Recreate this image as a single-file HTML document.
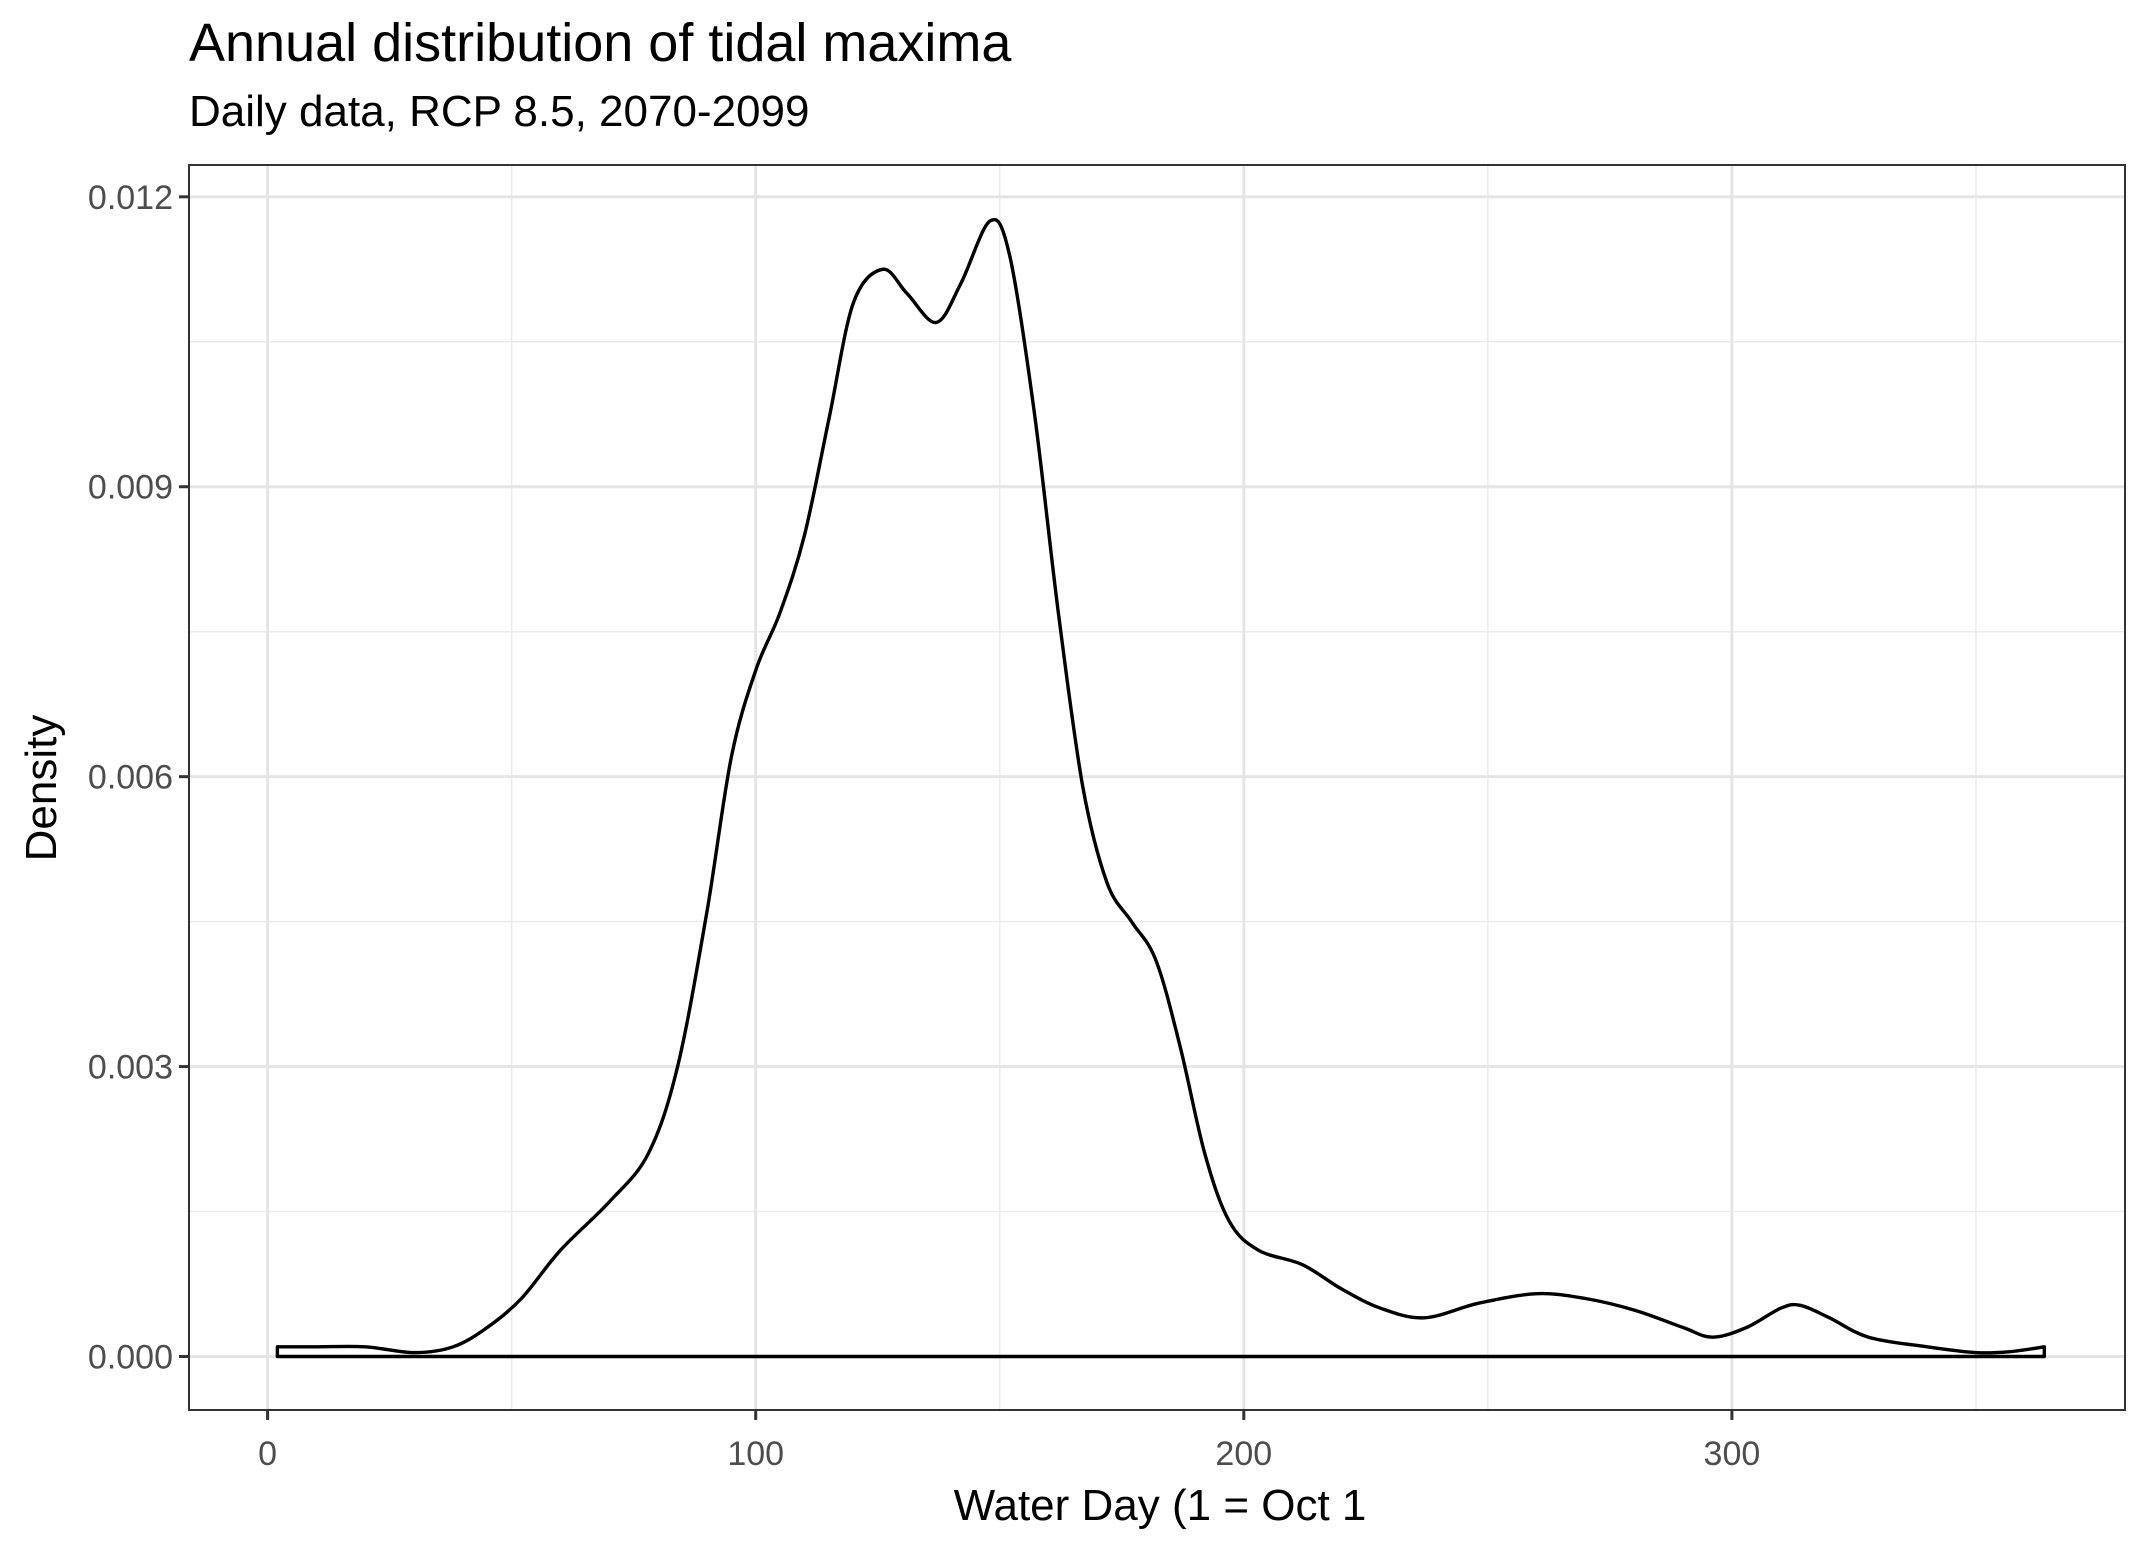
<!DOCTYPE html>
<html><head><meta charset="utf-8"><style>
html,body{margin:0;padding:0;background:#fff;}
svg{display:block;font-family:"Liberation Sans",Arial,sans-serif;}
</style></head><body>
<svg id="chart" width="2149" height="1545" viewBox="0 0 2149 1545">
<text x="189" y="61" font-size="54" fill="#000">Annual distribution of tidal maxima</text>
<text x="189" y="126" font-size="44" fill="#000">Daily data, RCP 8.5, 2070-2099</text>
<g id="grid"></g>
<g id="axes"></g>
<text x="1160" y="1520" font-size="44" text-anchor="middle" fill="#000">Water Day (1 = Oct 1</text>
<text transform="translate(56,788) rotate(-90)" font-size="44" text-anchor="middle" fill="#000">Density</text>
</svg>
<script>
const days=[2,10,20,30,38,45,52,60,70,78,84,90,95,100,105,110,115,120,126,131,137,142,148,152,157,162,167,172,177,182,187,192,197,203,212,220,228,237,248,260,270,280,290,296,303,310,314,320,328,340,350,357,364];
const density=[0.0001,0.0001,0.0001,0.00004,0.0001,0.0003,0.0006,0.0011,0.0016,0.0021,0.003,0.0046,0.0062,0.0071,0.0077,0.0085,0.0097,0.0109,0.01125,0.0110,0.0107,0.0111,0.01175,0.0114,0.0098,0.0077,0.0059,0.0049,0.0045,0.0041,0.0032,0.0021,0.0014,0.0011,0.00095,0.0007,0.0005,0.0004,0.00055,0.00065,0.0006,0.00048,0.0003,0.0002,0.0003,0.0005,0.00053,0.0004,0.0002,0.0001,0.00004,0.00005,0.0001];
const xTicks=[0,100,200,300];
const xMinor=[50,150,250,350];
const yTicks=[0,0.003,0.006,0.009,0.012];
const yTickLabels=["0.000","0.003","0.006","0.009","0.012"];
const yMinor=[0.0015,0.0045,0.0075,0.0105];

const L=189,R=2125,T=165,B=1410;
const sx=v=>267.6+v*4.881;
const sy=v=>1356.5-v*96640;
const NS="http://www.w3.org/2000/svg";
const svg=document.getElementById('chart');
const grid=document.getElementById('grid'), axes=document.getElementById('axes');
function mk(t,a,p){const e=document.createElementNS(NS,t);for(const k in a)e.setAttribute(k,a[k]);p.appendChild(e);return e;}

const bg=mk('rect',{x:L,y:T,width:R-L,height:B-T,fill:'#fff'},grid);


xMinor.forEach(v=>{const l=mk('line',{x1:sx(v),x2:sx(v),y1:T,y2:B,stroke:'#ebebeb','stroke-width':1.5},grid);

});
yMinor.forEach(v=>{const l=mk('line',{x1:L,x2:R,y1:sy(v),y2:sy(v),stroke:'#ebebeb','stroke-width':1.5},grid);

});
xTicks.forEach(v=>{const l=mk('line',{x1:sx(v),x2:sx(v),y1:T,y2:B,stroke:'#e5e5e5','stroke-width':3},grid);


const t=mk('line',{x1:sx(v),x2:sx(v),y1:B,y2:B+10,stroke:'#333','stroke-width':3},axes);


const tx=mk('text',{x:sx(v),y:1465,'font-size':34,'text-anchor':'middle',fill:'#4d4d4d'},axes);tx.textContent=v;

});
yTicks.forEach((v,i)=>{const l=mk('line',{x1:L,x2:R,y1:sy(v),y2:sy(v),stroke:'#e5e5e5','stroke-width':3},grid);


const t=mk('line',{x1:L-10,x2:L,y1:sy(v),y2:sy(v),stroke:'#333','stroke-width':3},axes);


const tx=mk('text',{x:L-16,y:sy(v)+12,'font-size':34,'text-anchor':'end',fill:'#4d4d4d'},axes);tx.textContent=yTickLabels[i];

});

const pts=days.map((x,i)=>[sx(x),sy(density[i])]);
let d='M'+sx(days[0]).toFixed(1)+','+sy(0).toFixed(1)+' L'+pts[0][0].toFixed(1)+','+pts[0][1].toFixed(1);
for(let i=0;i<pts.length-1;i++){
  const p0=pts[Math.max(0,i-1)],p1=pts[i],p2=pts[i+1],p3=pts[Math.min(pts.length-1,i+2)];
  const c1=[p1[0]+(p2[0]-p0[0])/6,p1[1]+(p2[1]-p0[1])/6];
  const c2=[p2[0]-(p3[0]-p1[0])/6,p2[1]-(p3[1]-p1[1])/6];
  d+=' C'+c1[0].toFixed(1)+','+c1[1].toFixed(1)+' '+c2[0].toFixed(1)+','+c2[1].toFixed(1)+' '+p2[0].toFixed(1)+','+p2[1].toFixed(1);
}
d+=' L'+sx(days[days.length-1]).toFixed(1)+','+sy(0).toFixed(1)+' Z';
const p=mk('path',{d:d,fill:'none',stroke:'#000','stroke-width':3.4,'stroke-linejoin':'round'},axes);


const fr=mk('rect',{x:L,y:T,width:R-L,height:B-T,fill:'none',stroke:'#333','stroke-width':2},axes);


</script>
</body></html>
